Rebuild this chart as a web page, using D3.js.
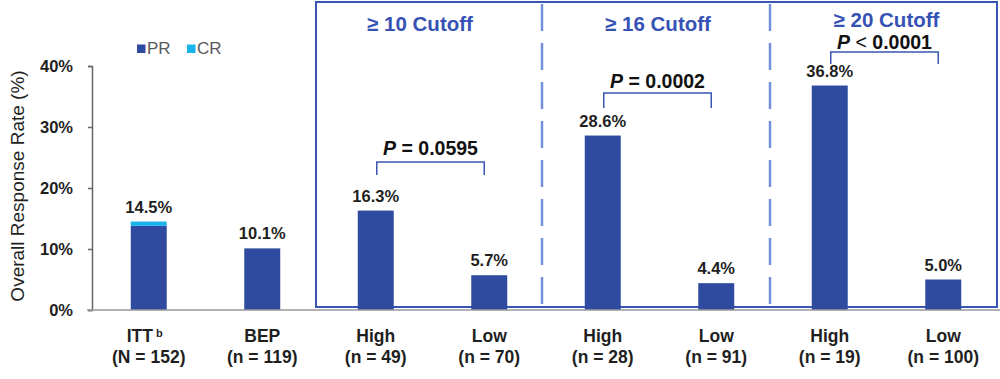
<!DOCTYPE html>
<html>
<head>
<meta charset="utf-8">
<script src="https://cdn.jsdelivr.net/npm/d3@7"></script>
<style>
  html, body { margin: 0; padding: 0; background: #fff; }
  svg { display: block; font-family: "Liberation Sans", Arial, sans-serif; }
</style>
</head>
<body>
<svg id="chart" width="1000" height="379"></svg>
<script>
// ---- data ----
const categories = ["ITT", "BEP", "High10", "Low10", "High16", "Low16", "High20", "Low20"];
const labelLine1 = ["ITT", "BEP", "High", "Low", "High", "Low", "High", "Low"];
const labelLine2 = ["(N = 152)", "(n = 119)", "(n = 49)", "(n = 70)", "(n = 28)", "(n = 91)", "(n = 19)", "(n = 100)"];
const prValues = [13.8, 10.1, 16.3, 5.7, 28.6, 4.4, 36.8, 5.0];
const crValues = [0.7, 0, 0, 0, 0, 0, 0, 0];
const totalLabels = ["14.5%", "10.1%", "16.3%", "5.7%", "28.6%", "4.4%", "36.8%", "5.0%"];
const yTicks = [0, 10, 20, 30, 40];
const seriesNames = ["PR", "CR"];
const panelTitles = ["≥ 10 Cutoff", "≥ 16 Cutoff", "≥ 20 Cutoff"];
const panelHigh = ["High10", "High16", "High20"];
const panelLow = ["Low10", "Low16", "Low20"];
const pOps = ["=", "=", "<"];
const pValues = ["0.0595", "0.0002", "0.0001"];

// ---- layout (not data) ----
const colors = { PR: "#2f4b9f", CR: "#19b3ec" };
const boxColor = "#3a55b1";
const dashColor = "#7290dc";
const bracketLevels = [[162, 175], [93, 108], [52, 64]];   // px: top, leg end
const pTextY = [155, 88, 49];
const titleY = [31, 31, 27];

const svg = d3.select("#chart");
const x = d3.scaleBand().domain(categories).range([92, 1000]).paddingInner(0.683).paddingOuter(0.3415);
const y = d3.scaleLinear().domain([0, 40]).range([310, 66]);

// ---- panel box ----
const step = x.step();
const gap = (step - x.bandwidth()) / 2;
const bndLeft = x("High10") - gap - 3;
const bnd1 = x("High16") - gap - 4;
const bnd2 = x("High20") - gap - 3;
const bndRight = 997;
svg.append("rect")
  .attr("x", bndLeft).attr("y", 2)
  .attr("width", bndRight - bndLeft).attr("height", 307 - 2)
  .attr("fill", "none").attr("stroke", boxColor).attr("stroke-width", 2);
[bnd1, bnd2].forEach(bx => {
  svg.append("line")
    .attr("x1", bx).attr("x2", bx).attr("y1", 4).attr("y2", 308)
    .attr("stroke", dashColor).attr("stroke-width", 2.5)
    .attr("stroke-dasharray", "27,12");
});

// ---- bars ----
const stackData = categories.map((c, i) => ({ cat: c, PR: prValues[i], CR: crValues[i] }));
const stacked = d3.stack().keys(seriesNames)(stackData);
svg.append("g").selectAll("g").data(stacked).join("g")
  .attr("fill", d => colors[d.key])
  .selectAll("rect").data(d => d).join("rect")
  .attr("x", d => x(d.data.cat))
  .attr("width", x.bandwidth())
  .attr("y", d => y(d[1]))
  .attr("height", d => Math.max(0, y(d[0]) - y(d[1])));

// ---- value labels ----
svg.append("g").selectAll("text").data(categories).join("text")
  .attr("x", c => x(c) + x.bandwidth() / 2)
  .attr("y", (c, i) => y(prValues[i] + crValues[i]) - 9)
  .attr("text-anchor", "middle")
  .attr("font-size", 16.5).attr("font-weight", "bold").attr("fill", "#1f1f1f")
  .text((c, i) => totalLabels[i]);

// ---- y axis ----
const yAxis = svg.append("g").attr("transform", "translate(92,0)")
  .call(d3.axisLeft(y).tickValues(yTicks).tickFormat(d => d + "%").tickSize(4).tickPadding(15));
yAxis.select(".domain").attr("stroke", "#666").attr("stroke-width", 1.5);
yAxis.selectAll(".tick line").attr("stroke", "#666").attr("stroke-width", 1.5);
yAxis.selectAll(".tick text")
  .attr("font-family", "Liberation Sans, Arial, sans-serif")
  .attr("font-size", 16.5).attr("font-weight", "bold").attr("fill", "#1f1f1f").attr("dy", "0.36em");

// ---- x axis baseline ----
svg.append("line").attr("x1", 87).attr("x2", 1000).attr("y1", y(0)).attr("y2", y(0))
  .attr("stroke", "#999").attr("stroke-width", 1.5);

// ---- x labels ----
const xl = svg.append("g").selectAll("text").data(categories).join("text")
  .attr("x", c => x(c) + x.bandwidth() / 2)
  .attr("text-anchor", "middle")
  .attr("font-size", 17.5).attr("font-weight", "bold").attr("fill", "#1f1f1f");
xl.append("tspan").attr("x", c => x(c) + x.bandwidth() / 2).attr("y", 341.5)
  .text((c, i) => labelLine1[i])
  .append("tspan").attr("font-size", 11).attr("dy", -5).attr("dx", 3)
  .text((c, i) => i === 0 ? "b" : "");
xl.append("tspan").attr("x", c => x(c) + x.bandwidth() / 2).attr("y", 363)
  .text((c, i) => labelLine2[i]);
xl.filter((c, i) => i === 0).select("tspan").attr("x", x("ITT") + x.bandwidth() / 2 - 4);

// ---- y title ----
svg.append("text")
  .attr("transform", "translate(24,186) rotate(-90)")
  .attr("text-anchor", "middle")
  .attr("font-size", 19).attr("fill", "#1f1f1f")
  .text("Overall Response Rate (%)");

// ---- legend ----
const legend = svg.append("g");
const legendX = [137, 187];
seriesNames.forEach((s, i) => {
  legend.append("rect").attr("x", legendX[i]).attr("y", 44.5).attr("width", 8.5).attr("height", 8.5).attr("fill", colors[s]);
  legend.append("text").attr("x", legendX[i] + 10).attr("y", 54)
    .attr("font-size", 17).attr("fill", "#595959").text(s);
});

// ---- panel titles ----
const panelCenters = [(bndLeft + bnd1) / 2 - 9, (bnd1 + bnd2) / 2 + 2, (bnd2 + bndRight) / 2 + 3];
svg.append("g").selectAll("text").data(panelTitles).join("text")
  .attr("x", (d, i) => panelCenters[i]).attr("y", (d, i) => titleY[i])
  .attr("text-anchor", "middle")
  .attr("font-size", 20.5).attr("font-weight", "bold").attr("fill", "#3652b4")
  .text(d => d);

// ---- p-value brackets ----
panelHigh.forEach((h, i) => {
  const x1 = x(h) + x.bandwidth() / 2 + 1;
  const x2 = x(panelLow[i]) + x.bandwidth() / 2 - 5;
  const [top, leg] = bracketLevels[i];
  svg.append("path")
    .attr("d", `M${x1},${leg}V${top}H${x2}V${leg}`)
    .attr("fill", "none").attr("stroke", boxColor).attr("stroke-width", 1.5);
  const t = svg.append("text")
    .attr("x", (x1 + x2) / 2).attr("y", pTextY[i])
    .attr("text-anchor", "middle")
    .attr("font-size", 19.5).attr("font-weight", "bold").attr("fill", "#111");
  t.append("tspan").attr("font-style", "italic").text("P");
  t.append("tspan").attr("font-weight", i === 2 ? "normal" : "bold").text(" " + pOps[i] + " ");
  t.append("tspan").text(pValues[i]);
});
</script>
</body>
</html>
